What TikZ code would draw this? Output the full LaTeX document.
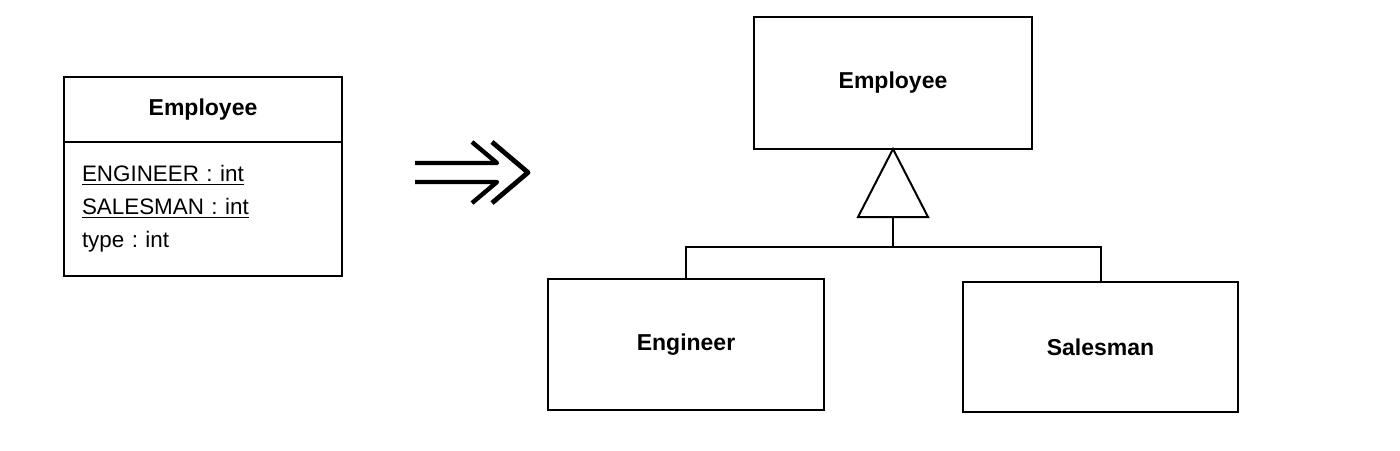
\documentclass[tikz,border=0pt]{standalone}
\usepackage{fontspec}
\setmainfont{Liberation Sans}
\usetikzlibrary{positioning}
\frenchspacing

\begin{document}
\begin{tikzpicture}[x=0.5pt,y=-0.5pt,line width=1pt,
  classbox/.style={draw,rectangle,inner sep=0pt,outer sep=0pt,font=\fontsize{11.5}{14}\selectfont\bfseries},
  attrbox/.style={draw,rectangle,align=left,inner xsep=9pt,inner ysep=0pt,outer sep=0pt,font=\fontsize{11.2}{16.5}\selectfont}]
  \useasboundingbox (0,0) rectangle (1400,450);

  % the one class with type codes
  \node[classbox,minimum width=139pt,minimum height=32.5pt,anchor=north west](oldemp) at (64,77) {Employee};
  \node[attrbox,minimum width=139pt,minimum height=67pt,text width=121pt,anchor=north](attrs) at (oldemp.south)
    {\underline{ENGINEER : int}\\\underline{SALESMAN : int}\\type : int};

  % the big arrow
  \draw[line width=2.2pt,line join=round] (415,163) -- (497,163) -- (472,142);
  \draw[line width=2.2pt,line join=round] (415,182) -- (497,182) -- (472,203);
  \draw[line width=2.4pt,line join=round] (492,142) -- (528,172.5) -- (492,203);

  % the subclasses
  \node[classbox,minimum width=139pt,minimum height=66pt](employee) at (893,83) {Employee};
  \node[classbox,minimum width=138pt,minimum height=65.5pt](engineer) at (686,344.5) {Engineer};
  \node[classbox,minimum width=137.5pt,minimum height=65pt](salesman) at (1100.5,347) {Salesman};

  \draw (employee.south) -- ++(-35,68) -- ++(70,0) -- cycle;
  \draw (employee.south) ++(0,68) coordinate (tribase) -- ++(0,30) coordinate (fork);
  \draw (engineer.north) |- (fork) -| (salesman.north);
\end{tikzpicture}
\end{document}
